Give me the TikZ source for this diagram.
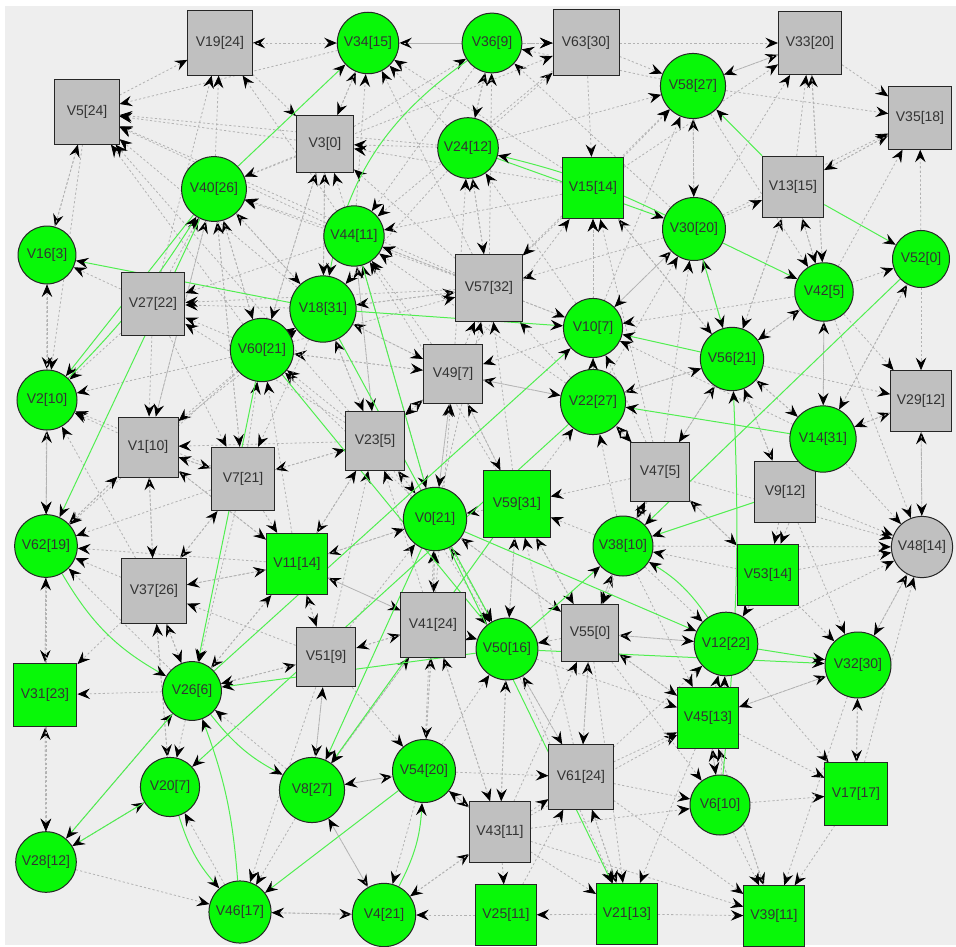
\documentclass[tikz,border=0pt]{standalone}
\usepackage{fontspec}
\newfontfamily\vfont{Liberation Sans}
\usetikzlibrary{arrows.meta}
\definecolor{bgcol}{RGB}{238,238,238}
\definecolor{vgreen}{RGB}{8,248,8}
\definecolor{vgrey}{RGB}{192,192,192}
\definecolor{greencol}{RGB}{80,238,80}
\definecolor{dotcol}{RGB}{178,178,178}
\pgfdeclarelayer{back}
\pgfdeclarelayer{edges}
\pgfsetlayers{back,edges,main}
\tikzset{
  vtx/.style={draw=black!85,line width=1pt,inner sep=0pt,font=\vfont\fontsize{14}{14}\selectfont,text=black!80},
  vcirc/.style={vtx,circle},
  vsq/.style={vtx,rectangle},
  dotedge/.style={draw=dotcol,line width=0.8pt,dash pattern=on 2.2pt off 2.2pt,-{Stealth[length=12.5pt,width=10.5pt,inset=4.5pt,black]}},
  greenedge/.style={draw=greencol,line width=1pt,-{Stealth[length=12.5pt,width=10.5pt,inset=4.5pt,black]}}
}
\newcommand\VC[5]{\node[vcirc,fill=#5,minimum size={57+0.3*#4}] (V#1) at (#2,#3) {V#1[#4]};}
\newcommand\VS[5]{\node[vsq,fill=#5,minimum size={57+0.3*#4}] (V#1) at (#2,#3) {V#1[#4]};}
\begin{document}
\begin{tikzpicture}[x=1pt,y=-1pt]
\useasboundingbox (0,0) rectangle (956,947);
\begin{pgfonlayer}{back}
\fill[white] (0,0) rectangle (956,947);
\fill[bgcol] (5,6) rectangle (956,945);
\end{pgfonlayer}
% vertices
\VC{0}{435}{519}{21}{vgreen}
\VS{1}{148}{447}{10}{vgrey}
\VC{2}{47}{400}{10}{vgreen}
\VS{3}{325}{144}{0}{vgrey}
\VC{4}{384}{915}{21}{vgreen}
\VS{5}{87}{112}{24}{vgrey}
\VC{6}{720}{805}{10}{vgreen}
\VS{7}{243}{479}{21}{vgrey}
\VC{8}{312}{790}{27}{vgreen}
\VS{9}{785}{492}{12}{vgrey}
\VC{10}{593}{328}{7}{vgreen}
\VS{11}{297}{564}{14}{vgreen}
\VC{12}{726}{644}{22}{vgreen}
\VS{13}{793}{187}{15}{vgrey}
\VC{14}{823}{439}{31}{vgreen}
\VS{15}{593}{188}{14}{vgreen}
\VC{16}{47}{255}{3}{vgreen}
\VS{17}{856}{794}{17}{vgreen}
\VC{18}{323}{309}{31}{vgreen}
\VS{19}{220}{43}{24}{vgrey}
\VC{20}{170}{787}{7}{vgreen}
\VS{21}{627}{914}{13}{vgreen}
\VC{22}{593}{402}{27}{vgreen}
\VS{23}{375}{441}{5}{vgrey}
\VC{24}{468}{148}{12}{vgreen}
\VS{25}{506}{915}{11}{vgreen}
\VC{26}{192}{691}{6}{vgreen}
\VS{27}{153}{304}{22}{vgrey}
\VC{28}{46}{862}{12}{vgreen}
\VS{29}{921}{401}{12}{vgrey}
\VC{30}{694}{229}{20}{vgreen}
\VS{31}{45}{695}{23}{vgreen}
\VC{32}{858}{665}{30}{vgreen}
\VS{33}{810}{43}{20}{vgrey}
\VC{34}{368}{43}{15}{vgreen}
\VS{35}{920}{118}{18}{vgrey}
\VC{36}{492}{43}{9}{vgreen}
\VS{37}{154}{591}{26}{vgrey}
\VC{38}{623}{546}{10}{vgreen}
\VS{39}{774}{916}{11}{vgreen}
\VC{40}{214}{189}{26}{vgreen}
\VS{41}{433}{625}{24}{vgrey}
\VC{42}{824}{292}{5}{vgreen}
\VS{43}{500}{832}{11}{vgrey}
\VC{44}{354}{236}{11}{vgreen}
\VS{45}{708}{718}{13}{vgreen}
\VC{46}{240}{912}{17}{vgreen}
\VS{47}{660}{472}{5}{vgrey}
\VC{48}{922}{547}{14}{vgrey}
\VS{49}{453}{374}{7}{vgrey}
\VC{50}{507}{649}{16}{vgreen}
\VS{51}{326}{657}{9}{vgrey}
\VC{52}{921}{259}{0}{vgreen}
\VS{53}{768}{575}{14}{vgreen}
\VC{54}{424}{771}{20}{vgreen}
\VS{55}{590}{633}{0}{vgrey}
\VC{56}{732}{359}{21}{vgreen}
\VS{57}{489}{288}{32}{vgrey}
\VC{58}{693}{86}{27}{vgreen}
\VS{59}{517}{504}{31}{vgreen}
\VC{60}{262}{350}{21}{vgreen}
\VS{61}{581}{777}{24}{vgrey}
\VC{62}{46}{546}{19}{vgreen}
\VS{63}{586}{43}{30}{vgrey}
\begin{pgfonlayer}{edges}
\foreach \a/\b in {3/5,34/5,44/5,24/5,18/5,57/5,60/5,23/5,
40/19,27/19,44/19,36/19,5/16,
63/34,24/34,57/34,15/34,44/34,3/34,19/34,
3/36,24/36,57/36,58/36,30/36,
34/63,36/63,24/63,40/63,
63/33,58/33,15/33,13/33,30/33,42/33,
63/58,24/58,57/58,15/58,10/58,30/58,
58/35,33/35,30/35,13/35,42/35,52/35,
34/3,24/3,57/3,15/3,18/3,60/3,
3/40,44/40,57/40,1/40,7/40,60/40,27/40,18/40,
49/24,10/24,57/24,
36/44,63/44,15/44,57/44,10/44,49/44,23/44,0/44,59/44,22/44,
24/57,18/57,60/57,15/57,30/57,49/57,22/57,0/57,
49/15,10/15,22/15,56/15,47/15,
58/30,10/30,56/30,22/30,47/30,
30/13,42/13,56/13,
13/42,33/42,58/42,56/42,14/42,
42/52,14/52,
18/27,44/27,60/27,57/27,23/27,
3/18,40/18,24/18,49/18,23/18,57/18,1/18,
40/60,3/60,23/60,49/60,11/60,0/60,7/60,
5/2,16/2,27/2,1/2,60/2,7/2,37/2,62/2,
40/1,27/1,60/1,23/1,37/1,11/1,
27/7,40/7,18/7,1/7,23/7,
7/11,1/11,37/11,23/11,0/11,41/11,51/11,
16/62,2/62,1/62,7/62,37/62,11/62,60/62,26/62,
1/37,7/37,11/37,26/37,51/37,
18/49,23/49,60/49,0/49,59/49,41/49,22/49,10/49,
57/10,42/10,22/10,47/10,30/10,14/10,
49/22,56/22,47/22,38/22,59/22,
18/23,44/23,7/23,49/23,0/23,11/23,
23/0,49/0,59/0,41/0,51/0,11/0,50/0,55/0,
49/59,47/59,38/59,55/59,50/59,
47/38,55/38,53/38,
51/41,11/41,0/41,54/41,43/41,
0/55,59/55,38/55,47/55,61/55,45/55,12/55,
0/50,59/50,41/50,55/50,23/50,61/50,43/50,54/50,
15/56,13/56,42/56,22/56,47/56,14/56,
42/29,52/29,14/29,56/29,48/29,
42/14,56/14,52/14,
56/47,22/47,38/47,53/47,
14/9,56/9,
9/48,14/48,47/48,53/48,38/48,12/48,29/48,42/48,32/48,17/48,
9/53,14/53,47/53,
55/12,53/12,45/12,38/12,61/12,
53/32,45/32,9/32,48/32,
55/45,50/45,61/45,38/45,32/45,6/45,43/45,
45/6,61/6,55/6,43/6,
32/17,45/17,12/17,6/17,
45/39,6/39,61/39,21/39,17/39,43/39,32/39,
61/21,43/21,45/21,50/21,55/21,
50/61,55/61,43/61,54/61,25/61,
50/43,41/43,54/43,4/43,
43/25,21/25,
41/54,8/54,43/54,51/54,
54/4,8/4,43/4,46/4,25/4,
51/8,41/8,54/8,
11/51,26/51,41/51,8/51,
37/26,11/26,7/26,51/26,
62/31,26/31,37/31,28/31,
26/20,28/20,37/20,
31/28,62/28,
8/46,51/46,4/46,28/46,
5/19,16/5,2/16,27/16,62/1,31/62,20/37,28/26,46/20,
59/57,41/23,51/23,8/41,54/0,61/59,43/55,21/61,
39/45,17/32,6/12,9/56,29/14,35/13,33/58,63/15,
36/24,19/3,44/3,60/18,7/1,37/7,26/11,8/26,4/8}
  \draw[dotedge] (V\a) -- (V\b);
% green edges
\draw[greenedge] (V40) -- (V34);
\draw[greenedge] (V36) to[bend right=22] (V18);
\draw[greenedge] (V18) -- (V16);
\draw[greenedge] (V40) -- (V2);
\draw[greenedge] (V2) to[bend right=6] (V40);
\draw[greenedge] (V40) -- (V62);
\draw[greenedge] (V18) -- (V10);
\draw[greenedge] (V44) -- (V0);
\draw[greenedge] (V60) -- (V26);
\draw[greenedge] (V18) -- (V50);
\draw[greenedge] (V60) -- (V50);
\draw[greenedge] (V26) -- (V10);
\draw[greenedge] (V22) -- (V20);
\draw[greenedge] (V59) -- (V8);
\draw[greenedge] (V0) -- (V8);
\draw[greenedge] (V4) to[bend right=12] (V54);
\draw[greenedge] (V0) -- (V21);
\draw[greenedge] (V50) -- (V26);
\draw[greenedge] (V62) to[bend right=15] (V26);
\draw[greenedge] (V26) -- (V28);
\draw[greenedge] (V20) -- (V28);
\draw[greenedge] (V20) to[bend right=12] (V46);
\draw[greenedge] (V46) to[bend right=8] (V26);
\draw[greenedge] (V26) to[bend right=12] (V8);
\draw[greenedge] (V54) -- (V46);
\draw[greenedge] (V0) -- (V12);
\draw[greenedge] (V50) -- (V32);
\draw[greenedge] (V12) -- (V32);
\draw[greenedge] (V50) -- (V38);
\draw[greenedge] (V9) -- (V38);
\draw[greenedge] (V12) to[bend right=12] (V38);
\draw[greenedge] (V6) to[bend right=4] (V56);
\draw[greenedge] (V14) -- (V22);
\draw[greenedge] (V52) -- (V38);
\draw[greenedge] (V30) -- (V56);
\draw[greenedge] (V56) -- (V10);
\draw[greenedge] (V24) -- (V30);
\draw[greenedge] (V30) to[bend right=6] (V24);
\draw[greenedge] (V30) -- (V42);
\draw[greenedge] (V13) -- (V52);
\draw[greenedge] (V13) -- (V58);
\end{pgfonlayer}
\end{tikzpicture}
\end{document}
